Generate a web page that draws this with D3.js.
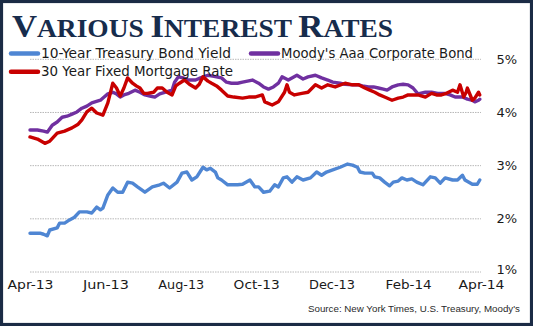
<!DOCTYPE html>
<html><head><meta charset="utf-8">
<script src="https://cdn.jsdelivr.net/npm/d3@7"></script>
<style>html,body{margin:0;padding:0;background:#fff;}svg{display:block;}</style>
</head><body>
<svg id="chart" width="533" height="326"></svg>
<script>
const seriesNames = ["10-Year Treasury Bond Yield", "Moody's Aaa Corporate Bond", "30 Year Fixed Mortgage Rate"];
const seriesColors = ["#4f86d3", "#7030a0", "#c80000"];
const yTicks = [1, 2, 3, 4, 5];
const xTickLabels = ["Apr-13","Jun-13","Aug-13","Oct-13","Dec-13","Feb-14","Apr-14"];
const xTickDates = ["2013-04-01","2013-06-01","2013-08-01","2013-10-01","2013-12-01","2014-02-01","2014-04-01"];

const treasuryDates = ["2013-04-01","2013-04-09","2013-04-12","2013-04-15","2013-04-17","2013-04-23","2013-04-25","2013-04-29","2013-05-03","2013-05-07","2013-05-11","2013-05-17","2013-05-21","2013-05-25","2013-05-28","2013-05-30","2013-06-03","2013-06-07","2013-06-11","2013-06-15","2013-06-19","2013-06-23","2013-06-27","2013-07-03","2013-07-09","2013-07-15","2013-07-18","2013-07-23","2013-07-29","2013-08-02","2013-08-06","2013-08-10","2013-08-14","2013-08-19","2013-08-22","2013-08-25","2013-08-29","2013-08-31","2013-09-03","2013-09-08","2013-09-16","2013-09-20","2013-09-26","2013-09-30","2013-10-03","2013-10-07","2013-10-12","2013-10-16","2013-10-19","2013-10-23","2013-10-26","2013-10-30","2013-11-03","2013-11-08","2013-11-14","2013-11-19","2013-11-23","2013-11-27","2013-12-02","2013-12-08","2013-12-14","2013-12-18","2013-12-22","2013-12-24","2013-12-28","2014-01-03","2014-01-05","2014-01-09","2014-01-13","2014-01-17","2014-01-20","2014-01-24","2014-01-27","2014-01-31","2014-02-04","2014-02-08","2014-02-13","2014-02-19","2014-02-23","2014-02-27","2014-03-03","2014-03-09","2014-03-13","2014-03-17","2014-03-19","2014-03-25","2014-03-29","2014-03-31"];
const treasuryValues = [1.73,1.73,1.71,1.68,1.79,1.83,1.92,1.92,1.98,2.03,2.13,2.13,2.11,2.22,2.17,2.20,2.45,2.58,2.50,2.50,2.69,2.67,2.60,2.50,2.60,2.64,2.67,2.58,2.69,2.86,2.88,2.73,2.79,2.97,2.92,2.95,2.88,2.77,2.73,2.64,2.64,2.65,2.73,2.60,2.60,2.50,2.52,2.64,2.60,2.77,2.79,2.69,2.79,2.73,2.77,2.88,2.82,2.88,2.92,2.97,3.03,3.01,2.97,2.88,2.86,2.86,2.79,2.77,2.69,2.62,2.69,2.71,2.77,2.73,2.75,2.69,2.64,2.79,2.77,2.67,2.77,2.73,2.73,2.82,2.73,2.65,2.65,2.73];

const aaaDates = ["2013-04-01","2013-04-07","2013-04-12","2013-04-15","2013-04-19","2013-04-23","2013-04-27","2013-05-01","2013-05-05","2013-05-09","2013-05-13","2013-05-17","2013-05-21","2013-05-28","2013-05-31","2013-06-03","2013-06-07","2013-06-10","2013-06-13","2013-06-16","2013-06-20","2013-06-25","2013-06-29","2013-07-03","2013-07-07","2013-07-11","2013-07-15","2013-07-19","2013-07-25","2013-07-27","2013-07-30","2013-08-03","2013-08-07","2013-08-13","2013-08-17","2013-08-23","2013-08-28","2013-09-03","2013-09-07","2013-09-11","2013-09-16","2013-09-20","2013-09-24","2013-09-28","2013-10-03","2013-10-07","2013-10-11","2013-10-15","2013-10-19","2013-10-22","2013-10-27","2013-10-30","2013-11-03","2013-11-08","2013-11-12","2013-11-18","2013-11-23","2013-11-28","2013-12-02","2013-12-08","2013-12-12","2013-12-18","2013-12-23","2013-12-26","2013-12-31","2014-01-04","2014-01-08","2014-01-12","2014-01-15","2014-01-19","2014-01-24","2014-01-28","2014-02-01","2014-02-05","2014-02-09","2014-02-15","2014-02-20","2014-02-25","2014-03-03","2014-03-07","2014-03-11","2014-03-17","2014-03-21","2014-03-25","2014-03-27","2014-03-30","2014-03-31"];
const aaaValues = [3.67,3.67,3.65,3.63,3.76,3.82,3.91,3.93,3.97,4.01,4.08,4.12,4.18,4.23,4.29,4.35,4.38,4.35,4.29,4.33,4.36,4.42,4.38,4.33,4.31,4.29,4.35,4.38,4.42,4.57,4.67,4.65,4.61,4.61,4.65,4.70,4.68,4.65,4.57,4.55,4.55,4.57,4.59,4.61,4.55,4.48,4.44,4.48,4.55,4.67,4.61,4.65,4.70,4.63,4.67,4.70,4.65,4.61,4.57,4.55,4.53,4.52,4.52,4.50,4.48,4.48,4.46,4.44,4.42,4.48,4.52,4.53,4.52,4.46,4.35,4.38,4.38,4.36,4.36,4.33,4.29,4.29,4.25,4.23,4.20,4.23,4.25];

const mortgageDates = ["2013-04-01","2013-04-07","2013-04-13","2013-04-17","2013-04-23","2013-04-29","2013-05-05","2013-05-10","2013-05-13","2013-05-17","2013-05-21","2013-05-25","2013-05-30","2013-06-03","2013-06-07","2013-06-10","2013-06-13","2013-06-16","2013-06-19","2013-06-23","2013-06-26","2013-06-29","2013-07-02","2013-07-05","2013-07-10","2013-07-13","2013-07-17","2013-07-21","2013-07-25","2013-07-28","2013-07-31","2013-08-04","2013-08-08","2013-08-13","2013-08-16","2013-08-19","2013-08-23","2013-08-26","2013-08-30","2013-09-03","2013-09-08","2013-09-13","2013-09-20","2013-09-25","2013-09-30","2013-10-06","2013-10-08","2013-10-14","2013-10-19","2013-10-24","2013-10-26","2013-10-28","2013-11-01","2013-11-07","2013-11-12","2013-11-18","2013-11-23","2013-11-28","2013-12-04","2013-12-12","2013-12-18","2013-12-23","2013-12-28","2014-01-01","2014-01-05","2014-01-09","2014-01-13","2014-01-19","2014-01-24","2014-01-28","2014-02-01","2014-02-09","2014-02-15","2014-02-20","2014-02-24","2014-02-28","2014-03-04","2014-03-09","2014-03-13","2014-03-15","2014-03-18","2014-03-20","2014-03-21","2014-03-25","2014-03-27","2014-03-30","2014-03-31"];
const mortgageValues = [3.54,3.50,3.42,3.46,3.61,3.65,3.71,3.78,3.86,4.01,4.08,3.99,3.95,4.18,4.55,4.46,4.31,4.46,4.65,4.55,4.50,4.46,4.36,4.36,4.38,4.46,4.46,4.38,4.33,4.50,4.55,4.61,4.53,4.46,4.53,4.67,4.59,4.55,4.50,4.42,4.31,4.29,4.27,4.29,4.29,4.33,4.20,4.14,4.20,4.38,4.52,4.38,4.33,4.36,4.38,4.52,4.46,4.52,4.48,4.55,4.52,4.52,4.46,4.42,4.38,4.33,4.29,4.23,4.27,4.29,4.33,4.33,4.29,4.36,4.33,4.33,4.36,4.42,4.38,4.52,4.29,4.38,4.46,4.23,4.27,4.38,4.33];

const parse = d3.timeParse("%Y-%m-%d");
const svg = d3.select("#chart");

const x = d3.scaleTime().domain([parse("2013-04-01"), parse("2014-04-01")]).range([30, 481]);
const y = d3.scaleLinear().domain([1, 5]).range([272, 59.3]);

function fit(sel, w) {
  const n = sel.node();
  const cur = n.getComputedTextLength();
  if (cur > 0) sel.attr("textLength", w).attr("lengthAdjust", "spacingAndGlyphs");
}
function fitSize(sel, w, base) {
  const cur = sel.node().getComputedTextLength();
  if (cur > 0) sel.style("font-size", (base * w / cur).toFixed(2) + "px");
}

// gridlines
svg.append("g").selectAll("line").data(yTicks).join("line")
  .attr("x1", x.range()[0]).attr("x2", x.range()[1])
  .attr("y1", d => y(d)).attr("y2", d => y(d))
  .attr("stroke", "#b8b8b8").attr("stroke-width", 1).attr("stroke-dasharray", "1.5,1");

// right axis labels
const yAxis = d3.axisRight(y).tickValues(yTicks).tickFormat(d => d + "%").tickSize(0).tickPadding(0);
const ya = svg.append("g").attr("transform", "translate(517,0)").call(yAxis);
ya.select(".domain").remove();
ya.selectAll("text").attr("text-anchor", "end").attr("x", 0)
  .style("font-family", "'DejaVu Sans', sans-serif").style("font-size", "13px").attr("fill", "#1a1a1a");
ya.selectAll(".tick").filter(d => d === 1).select("text").attr("dy", "0.1em");

// bottom axis labels
const xAxis = d3.axisBottom(x).tickValues(xTickDates.map(parse))
  .tickFormat((d, i) => xTickLabels[i]).tickSize(0).tickPadding(0);
const xa = svg.append("g").attr("transform", "translate(0,280)").call(xAxis);
xa.select(".domain").remove();
xa.selectAll("text").attr("dy", "0.72em")
  .style("font-family", "'DejaVu Sans', sans-serif").style("font-size", "13px").attr("fill", "#1a1a1a")
  .each(function() { fit(d3.select(this), 46); });

// lines
const line = d3.line().x(d => x(d[0])).y(d => y(d[1])).curve(d3.curveLinear);
const allSeries = [
  d3.zip(treasuryDates.map(parse), treasuryValues),
  d3.zip(aaaDates.map(parse), aaaValues),
  d3.zip(mortgageDates.map(parse), mortgageValues)
];
allSeries.forEach((s, i) => {
  svg.append("path").datum(s).attr("d", line)
    .attr("fill", "none").attr("stroke", seriesColors[i]).attr("stroke-width", 3.4)
    .attr("stroke-linejoin", "round").attr("stroke-linecap", "round");
});

// legend
const legendPos = [[10, 53.5, 190], [250, 53.5, 192], [10, 71.7, 192]];
seriesNames.forEach((name, i) => {
  const [lx, ly, tw] = legendPos[i];
  svg.append("line").attr("x1", lx + 1).attr("x2", lx + 28).attr("y1", ly).attr("y2", ly)
    .attr("stroke", seriesColors[i]).attr("stroke-width", 4.5).attr("stroke-linecap", "round");
  const t = svg.append("text").attr("x", lx + 31).attr("y", ly + 4.6)
    .style("font-family", "'DejaVu Sans', sans-serif").style("font-size", "13.5px")
    .attr("fill", "#1a1a1a").text(name);
  fit(t, tw);
});

// title (small caps)
const title = svg.append("text").attr("x", 12).attr("y", 37.4)
  .style("font-family", "'Liberation Serif', serif").style("font-weight", "700")
  .attr("fill", "#172c4c");
const parts = [["V", 1], ["ARIOUS ", 0], ["I", 1], ["NTEREST ", 0], ["R", 1], ["ATES", 0]];
parts.forEach(([s, big]) => title.append("tspan").style("font-size", big ? "31px" : "24.5px").text(s));
fit(title, 381);

// source
const src = svg.append("text").attr("x", 308).attr("y", 311.5)
  .style("font-family", "'Liberation Sans', sans-serif").style("font-size", "10px")
  .attr("fill", "#2a2a2a").text("Source:  New York Times, U.S. Treasury, Moody's");
fitSize(src, 212, 10);

// frame
svg.append("rect").attr("x", 1.5).attr("y", 1.5).attr("width", 530).attr("height", 323)
  .attr("fill", "none").attr("stroke", "#1b2b45").attr("stroke-width", 3.2);
</script>
</body></html>
